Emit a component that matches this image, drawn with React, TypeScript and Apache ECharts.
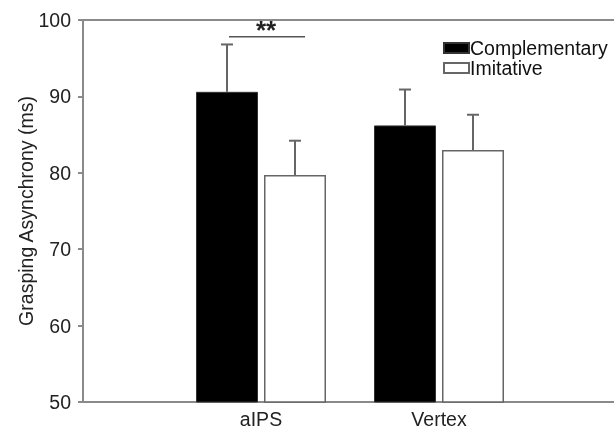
import React, { useEffect, useRef } from "react";
import * as echarts from "echarts";

const categories = ["", "aIPS", "Vertex", ""];
const seriesNames = ["Complementary", "Imitative"];
const complementary = [null, 90.6, 86.2, null];
const imitative = [null, 79.7, 83.0, null];
const complementaryErr = [null, 6.2, 4.7, null];
const imitativeErr = [null, 4.5, 4.6, null];
const yTicks = { min: 50, max: 100, interval: 10 };
const sigCategory = "aIPS";
const sigLevel = 97.8;
const sigLabel = "**";

const FONT = "'Liberation Sans', Arial, sans-serif";
const FS = 19.5;
const AXIS_GRAY = "#8a8a8a";
const BAR_W = 62;
const BAR_GAP = 6;

export default function App() {
  const ref = useRef<HTMLDivElement>(null);
  useEffect(() => {
    if (!ref.current) return;
    const chart = echarts.init(ref.current, null, { renderer: "svg" });

    const errData: any[] = [];
    categories.forEach((c, i) => {
      if (complementary[i] != null) errData.push([i, complementary[i], complementary[i]! + complementaryErr[i]!, -1]);
      if (imitative[i] != null) errData.push([i, imitative[i], imitative[i]! + imitativeErr[i]!, 1]);
    });
    const offset = (BAR_W + BAR_GAP) / 2;

    chart.setOption({
      animation: false,
      grid: { left: 83, top: 20, bottom: 26, right: 3 },
      legend: {
        orient: "vertical",
        left: 438,
        top: 33,
        itemWidth: 25,
        itemHeight: 10,
        itemGap: 0,
        icon: "rect",
        data: seriesNames,
        textStyle: { fontFamily: FONT, fontSize: FS, color: "#111", padding: [0, 0, 0, -4], lineHeight: 18 },
      },
      xAxis: [
        {
          type: "category",
          data: categories,
          boundaryGap: false,
          axisLine: { lineStyle: { color: AXIS_GRAY, width: 2 } },
          axisTick: { show: false },
          axisLabel: { fontFamily: FONT, fontSize: FS, color: "#222", margin: 7 },
          splitLine: { show: false },
        },
        {
          type: "category",
          data: categories,
          position: "top",
          boundaryGap: false,
          axisLine: { show: true, lineStyle: { color: AXIS_GRAY, width: 2 } },
          axisTick: { show: false },
          axisLabel: { show: false },
        },
      ],
      yAxis: {
        type: "value",
        min: yTicks.min,
        max: yTicks.max,
        interval: yTicks.interval,
        name: "Grasping Asynchrony (ms)",
        nameLocation: "middle",
        nameGap: 47,
        nameMoveOverlap: false,
        nameTextStyle: { fontFamily: FONT, fontSize: FS, color: "#222" },
        axisLine: { show: true, lineStyle: { color: AXIS_GRAY, width: 2 } },
        axisTick: { show: true, length: 5, lineStyle: { color: AXIS_GRAY, width: 2 } },
        axisLabel: { fontFamily: FONT, fontSize: FS, color: "#222", margin: 12 },
        splitLine: { show: false },
      },
      series: [
        {
          name: seriesNames[0],
          type: "bar",
          data: complementary,
          barWidth: BAR_W,
          barGap: `${(BAR_GAP / BAR_W) * 100}%`,
          itemStyle: { color: "#000", borderColor: "#333", borderWidth: 1 },
        },
        {
          name: seriesNames[1],
          type: "bar",
          data: imitative,
          barWidth: BAR_W,
          itemStyle: { color: "#fff", borderColor: "#666", borderWidth: 1.5 },
        },
        {
          type: "custom",
          data: errData,
          z: 5,
          renderItem: (params: any, api: any) => {
            const ci = api.value(0);
            const base = api.coord([ci, api.value(1)]);
            const top = api.coord([ci, api.value(2)]);
            const x = base[0] + api.value(3) * offset;
            const style = { stroke: "#666", lineWidth: 2 };
            return {
              type: "group",
              children: [
                { type: "line", shape: { x1: x, y1: base[1], x2: x, y2: top[1] }, style },
                { type: "line", shape: { x1: x - 6, y1: top[1], x2: x + 6, y2: top[1] }, style },
              ],
            };
          },
        },
        {
          type: "custom",
          data: [[categories.indexOf(sigCategory), sigLevel]],
          z: 5,
          renderItem: (params: any, api: any) => {
            const p = api.coord([api.value(0), api.value(1)]);
            return {
              type: "group",
              children: [
                { type: "line", shape: { x1: p[0] - 32, y1: p[1], x2: p[0] + 44, y2: p[1] }, style: { stroke: "#555", lineWidth: 1.5 } },
                {
                  type: "text",
                  x: p[0] + 5,
                  y: p[1] + 6,
                  style: { text: sigLabel, fontFamily: FONT, fontSize: 26, fontWeight: "bold", fill: "#222", align: "center", verticalAlign: "bottom" },
                },
              ],
            };
          },
        },
      ],
    });
    return () => chart.dispose();
  }, []);
  return <div ref={ref} style={{ position: "fixed", left: 0, top: 0, width: 620, height: 429 }} />;
}
